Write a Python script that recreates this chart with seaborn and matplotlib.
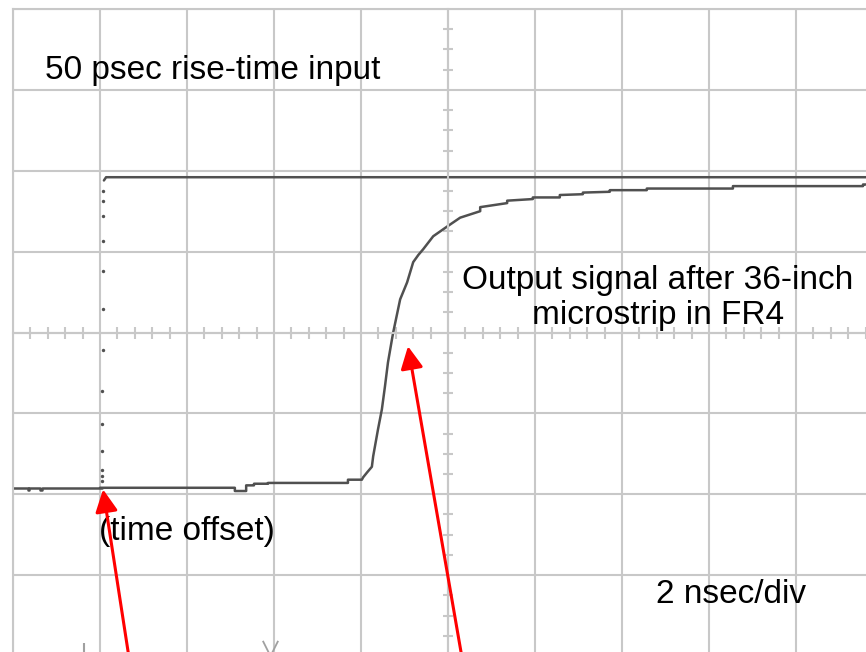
import matplotlib
matplotlib.use("Agg")
import matplotlib.pyplot as plt
import matplotlib.ticker as mticker
from matplotlib.path import Path
import seaborn as sns

# time in ns (2 ns/div), amplitude in screen divisions (0 = centre line)
pre_t = [-2.0, -1.66, -1.66, -1.63, -1.63, -1.38, -1.38, -1.33, -1.33, 0.05]
pre_v = [-1.92, -1.92, -1.95, -1.95, -1.92, -1.92, -1.95, -1.95, -1.92, -1.92]

# 50 psec input edge: only a few samples land on the edge -> dots
edge_t = [0.05, 0.05, 0.05, 0.05, 0.05, 0.05, 0.07, 0.07, 0.07, 0.07, 0.07, 0.07, 0.07]
edge_v = [-1.84, -1.78, -1.70, -1.47, -1.13, -0.72, -0.22, 0.29, 0.76, 1.13, 1.44, 1.62, 1.75]

in_t = [0.09, 0.14, 18.0]
in_v = [1.88, 1.92, 1.92]

out_t = [0.0, 3.10, 3.10, 3.36, 3.36, 3.54, 3.54, 3.86, 3.86, 5.70, 5.70, 6.02, 6.05,
         6.14, 6.25, 6.28, 6.32, 6.39, 6.48, 6.55, 6.62, 6.71, 6.74, 6.90, 7.06, 7.20,
         7.32, 7.43, 7.66, 7.98, 8.28, 8.74, 8.74, 9.36, 9.36, 9.95, 9.95, 10.57, 10.57,
         11.10, 11.10, 11.72, 11.72, 12.57, 12.57, 14.55, 14.55, 17.54, 17.54, 18.0]
out_v = [-1.92, -1.92, -1.96, -1.96, -1.89, -1.89, -1.87, -1.87, -1.86, -1.86, -1.82,
         -1.82, -1.79, -1.73, -1.66, -1.53, -1.41, -1.20, -0.95, -0.67, -0.37, -0.09,
         0.0, 0.41, 0.62, 0.87, 0.96, 1.03, 1.19, 1.31, 1.42, 1.50, 1.55, 1.60, 1.63,
         1.65, 1.67, 1.67, 1.70, 1.71, 1.73, 1.74, 1.76, 1.76, 1.78, 1.78, 1.81, 1.81,
         1.83, 1.83]

GRID = "#c8c8c8"
TRACE = "#505050"

sns.set_style("white")
plt.rcParams["font.family"] = ["Liberation Sans", "DejaVu Sans"]

fig = plt.figure(figsize=(8.66, 6.52), dpi=100)
ax = fig.add_axes([13 / 866, -4 / 652, 870 / 866, 647 / 652])

ax.set_xlim(-2, 18)
ax.set_ylim(-4, 4)

# scope graticule
ax.xaxis.set_major_locator(mticker.MultipleLocator(2))
ax.yaxis.set_major_locator(mticker.MultipleLocator(1))
ax.xaxis.set_minor_locator(mticker.MultipleLocator(0.4))
ax.yaxis.set_minor_locator(mticker.MultipleLocator(0.25))
ax.grid(True, which="major", color=GRID, linewidth=1.5)
ax.set_axisbelow(True)

for s in ax.spines.values():
    s.set_color(GRID)
    s.set_linewidth(1.5)
ax.spines["bottom"].set_position(("data", 0))
ax.spines["right"].set_position(("data", 8))

ax.tick_params(which="major", length=0, labelbottom=False, labelleft=False,
               labelright=False, labeltop=False)
ax.tick_params(axis="x", which="minor", direction="inout", length=8.5, width=1.5,
               color=GRID, bottom=True, top=False)
ax.tick_params(axis="y", which="minor", direction="inout", length=7.5, width=1.5,
               color=GRID, left=False, right=True)

# traces
sns.lineplot(x=pre_t, y=pre_v, ax=ax, color=TRACE, linewidth=1.8, sort=False,
             estimator=None)
sns.lineplot(x=out_t, y=out_v, ax=ax, color=TRACE, linewidth=1.8, sort=False,
             estimator=None)
sns.lineplot(x=in_t, y=in_v, ax=ax, color=TRACE, linewidth=1.8, sort=False,
             estimator=None)
sns.scatterplot(x=edge_t, y=edge_v, ax=ax, color=TRACE, s=6, linewidth=0)

# trigger markers at the bottom of the screen
chevron = Path([(-1, 1), (0, -1), (1, 1)], [Path.MOVETO, Path.LINETO, Path.LINETO])
ax.plot([-0.37], [-3.93], marker="|", markersize=10, markeredgewidth=1.5,
        color="#a0a0a0", clip_on=False)
ax.plot([3.91], [-3.90], marker=chevron, markersize=11, markeredgewidth=1.3,
        markerfacecolor="none", color="#a0a0a0", clip_on=False)

# labels
fs = 24
ax.text(-1.26, 3.13, "50 psec rise-time input", fontsize=fs, color="black",
        ha="left", va="baseline")
ax.text(12.83, 0.10, "Output signal after 36-inch\nmicrostrip in FR4", fontsize=fs,
        color="black", ha="center", va="baseline", multialignment="center",
        linespacing=1.2)
ax.text(2.0, -2.56, "(time offset)", fontsize=fs, color="black", ha="center",
        va="baseline")
ax.text(14.5, -3.35, "2 nsec/div", fontsize=fs, color="black", ha="center",
        va="baseline")

# red pointers
arrow = dict(arrowstyle="-|>", color="red", lw=2.2, mutation_scale=34,
             shrinkA=0, shrinkB=0)
ax.annotate("", xy=(0.07, -1.94), xytext=(0.71, -4.17), arrowprops=arrow,
            annotation_clip=False)
ax.annotate("", xy=(7.08, -0.17), xytext=(8.37, -4.17), arrowprops=arrow,
            annotation_clip=False)

ax.set_xlabel("")
ax.set_ylabel("")

fig.savefig("out.png", dpi=100, facecolor="white")
